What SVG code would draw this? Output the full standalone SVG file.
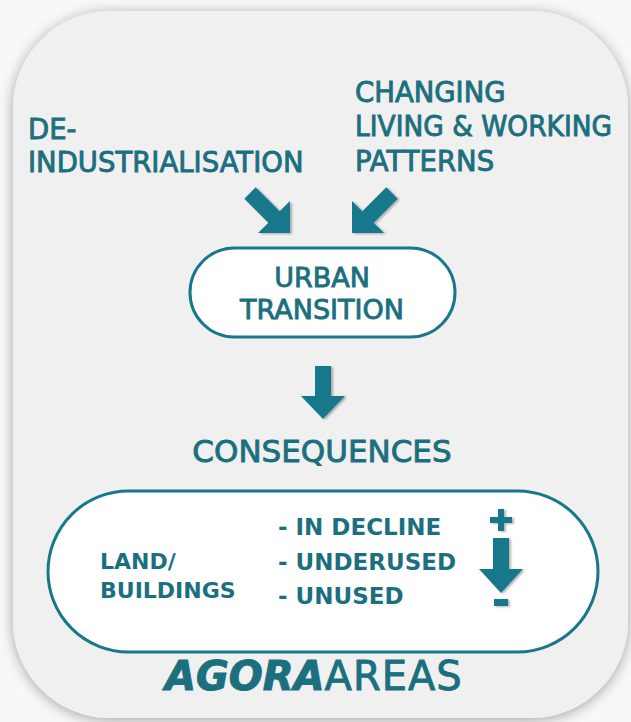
<svg xmlns="http://www.w3.org/2000/svg" width="631" height="722" viewBox="0 0 631 722">
<defs>
<filter id="shadow" x="-10%" y="-10%" width="120%" height="120%">
<feGaussianBlur in="SourceAlpha" stdDeviation="7"/>
<feOffset dx="0" dy="2" result="b"/>
<feComponentTransfer><feFuncA type="linear" slope="0.35"/></feComponentTransfer>
<feMerge><feMergeNode/><feMergeNode in="SourceGraphic"/></feMerge>
</filter>
<filter id="ashadow" x="-20%" y="-20%" width="150%" height="150%">
<feGaussianBlur in="SourceAlpha" stdDeviation="1.2"/>
<feOffset dx="2" dy="1"/>
<feComponentTransfer><feFuncA type="linear" slope="0.3"/></feComponentTransfer>
<feMerge><feMergeNode/><feMergeNode in="SourceGraphic"/></feMerge>
</filter>
<path id="diag" d="M0,0 L0,-32 L-10.3,-21.7 L-34.3,-45.7 L-45.7,-34.3 L-21.7,-10.3 L-32,0 Z"/>
</defs>
<style>
.t{font-family:"DejaVu Sans","Liberation Sans",sans-serif;fill:#1b6f7e;stroke:#1b6f7e;stroke-width:0.9}
.top{font-size:27.5px}
.b{font-family:"DejaVu Sans","Liberation Sans",sans-serif;font-weight:bold;fill:#1b6f7e;font-size:23px}
.b2{font-size:22px}
.pill{fill:#ffffff;stroke:#17788a;stroke-width:3}
.arr{fill:#17788a}
</style>
<rect width="631" height="722" fill="#f8f8f8"/>
<rect id="card" x="13" y="11" width="615" height="707" rx="97" fill="#f0f0f0" filter="url(#shadow)"/>

<g id="de-industrialisation">
<text class="t top" x="28" y="139">DE-</text>
<text class="t top" x="28" y="172">INDUSTRIALISATION</text>
</g>
<g id="changing-patterns">
<text class="t top" x="355" y="102">CHANGING</text>
<text class="t top" x="355" y="136" textLength="257" lengthAdjust="spacingAndGlyphs">LIVING &amp; WORKING</text>
<text class="t top" x="355" y="171">PATTERNS</text>
</g>
<g id="urban-transition">
<rect class="pill" x="190" y="248" width="265" height="89" rx="44.5"/>
<text class="t" x="322" y="287" font-size="27" text-anchor="middle">URBAN</text>
<text class="t" x="322" y="319" font-size="27" text-anchor="middle">TRANSITION</text>
</g>
<g id="consequences">
<text class="t" x="322" y="462" font-size="31" text-anchor="middle">CONSEQUENCES</text>
</g>
<g id="land-buildings">
<rect class="pill" x="48" y="491" width="550" height="161" rx="80.5"/>
<text class="b b2" x="100" y="569">LAND/</text>
<text class="b b2" x="100" y="598">BUILDINGS</text>
<text class="b" x="278" y="535">- IN DECLINE</text>
<text class="b" x="278" y="570">- UNDERUSED</text>
<text class="b" x="278" y="604">- UNUSED</text>
<g class="arr" filter="url(#ashadow)">
<rect x="490" y="517" width="22" height="6"/>
<rect x="498" y="509" width="6" height="22"/>
<rect x="493" y="538" width="16" height="32"/>
<path d="M479,569 L523,569 L501,593 Z"/>
<rect x="494" y="599" width="14" height="7"/>
</g>
</g>
<g id="agora-areas">
<text x="165" y="690" font-family="DejaVu Sans, Liberation Sans, sans-serif" font-size="40" fill="#1b6f7e"><tspan font-weight="bold" font-style="italic" stroke="#1b6f7e" stroke-width="1">AGORA</tspan><tspan stroke="#1b6f7e" stroke-width="0.9" letter-spacing="1">AREAS</tspan></text>
</g>
<g id="connectors" class="arr" filter="url(#ashadow)">
<use href="#diag" transform="translate(290,233)"/>
<use href="#diag" transform="translate(352,233) scale(-1,1)"/>
<path d="M315,366 L331,366 L331,396 L345,396 L323,419 L301,396 L315,396 Z"/>
</g>
</svg>
